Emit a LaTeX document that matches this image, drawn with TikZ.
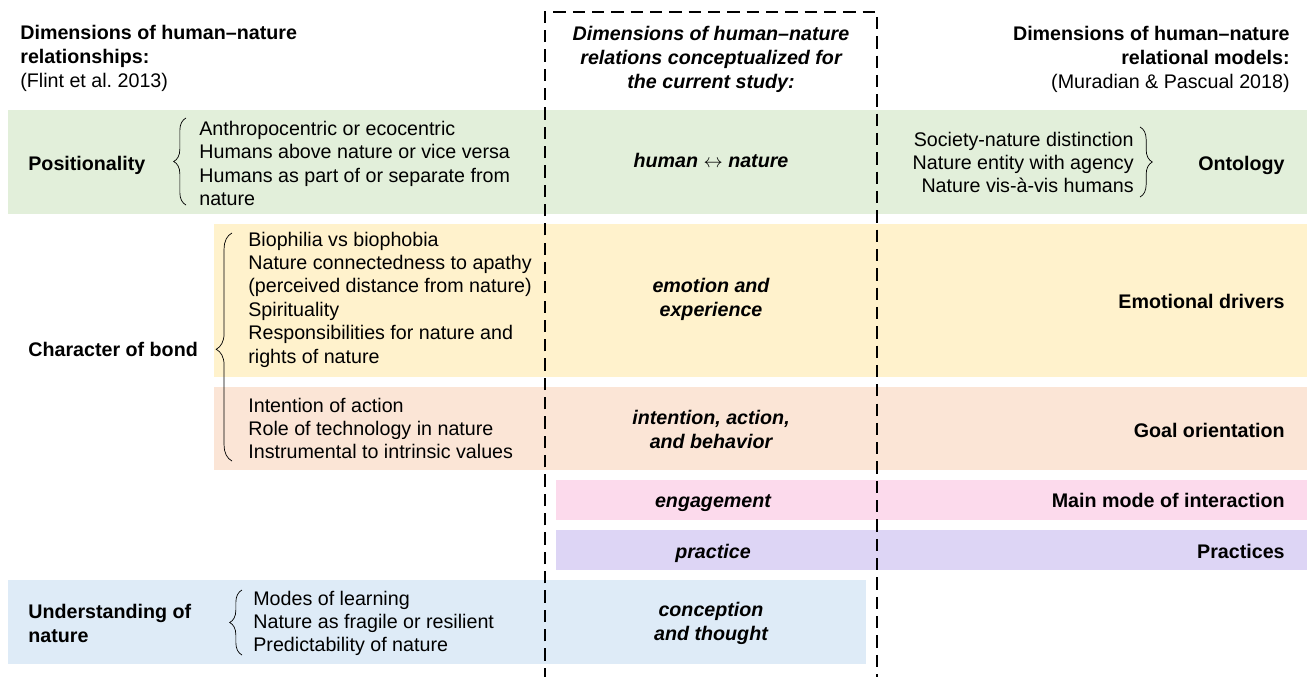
\documentclass[tikz,border=0pt]{standalone}
\usepackage{fontspec}
\setmainfont{Liberation Sans}
\usetikzlibrary{decorations.pathreplacing}

\definecolor{posgreen}{HTML}{E2EFDA}
\definecolor{bondyellow}{HTML}{FFF2CC}
\definecolor{actorange}{HTML}{FBE5D6}
\definecolor{engpink}{HTML}{FCDAEC}
\definecolor{pracpurple}{HTML}{DDD5F5}
\definecolor{undblue}{HTML}{DEEBF7}

\tikzset{
  txt/.style={inner sep=0pt, font=\fontsize{11.2}{13.3}\selectfont},
  dimlabel/.style={txt, font=\fontsize{11.2}{13.3}\selectfont\bfseries},
  studylabel/.style={txt, font=\fontsize{11.2}{13.3}\selectfont\bfseries\itshape, align=center},
  oneline/.style={text height=8.1pt, text depth=0pt},
  headline/.style={font=\fontsize{11.2}{13.6}\selectfont\bfseries},
  studyhead/.style={txt, align=center, font=\fontsize{11.2}{13.6}\selectfont\bfseries\itshape},
  itemlist/.style={txt, anchor=west, align=left},
  curly/.style={decorate, decoration={brace, amplitude=7pt}, thin},
}

\begin{document}
\begin{tikzpicture}[x=0.02cm, y=-0.02cm]
  \useasboundingbox (0,0) rectangle (1307,676);

  % Coloured bands
  \fill[posgreen] (8,110) rectangle (1307,214);
  \fill[bondyellow] (214,224) rectangle (1307,377);
  \fill[actorange] (214,387) rectangle (1307,470);
  \fill[engpink] (556,480) rectangle (1307,520);
  \fill[pracpurple] (556,530) rectangle (1307,570);
  \fill[undblue] (8,580) rectangle (866,664);

  % Column headings
  \node[dimlabel, headline, anchor=north west, align=left] (headflint) at (20,25)
    {Dimensions of human--nature\\relationships:\\\mdseries(Flint et al.\ 2013)};
  \node[studyhead, anchor=north] (headstudy) at (711,26)
    {Dimensions of human--nature\\relations conceptualized for\\the current study:};
  \node[dimlabel, headline, anchor=north east, align=right] (headmodel) at (1290,26)
    {Dimensions of human--nature\\relational models:\\\mdseries(Muradian \& Pascual 2018)};

  % Positionality / Ontology
  \node[dimlabel, oneline, anchor=west] (position) at (28,163) {Positionality};
  \node[itemlist] (positems) at (199,163.5)
    {Anthropocentric or ecocentric\\Humans above nature or vice versa\\Humans as part of or separate from\\nature};
  \draw[curly] (186,205) -- (186,118);
  \node[studylabel, oneline] (humnat) at (711,160) {human $\leftrightarrow$ nature};
  \node[itemlist, anchor=east, align=right] (ontitems) at (1134,162.5)
    {Society-nature distinction\\Nature entity with agency\\Nature vis-\`a-vis humans};
  \draw[curly] (1140,127) -- (1140,197);
  \node[dimlabel, oneline, anchor=east] (ontology) at (1285,163) {Ontology};

  % Character of bond
  \node[dimlabel, oneline, anchor=west] (bond) at (28,349) {Character of bond};
  \draw[curly, decoration={brace, amplitude=9pt, aspect=0.49}] (232,461) -- (232,233);
  \node[itemlist] (emoitems) at (248,299.5)
    {Biophilia vs biophobia\\Nature connectedness to apathy\\(perceived distance from nature)\\Spirituality\\Responsibilities for nature and\\rights of nature};
  \node[itemlist] (actitems) at (248,428.5)
    {Intention of action\\Role of technology in nature\\Instrumental to intrinsic values};
  \node[studylabel] (emotion) at (711,299.5) {emotion and\\experience};
  \node[dimlabel, oneline, anchor=east] (drivers) at (1285,301) {Emotional drivers};
  \node[studylabel] (intention) at (711,429.5) {intention, action,\\and behavior};
  \node[dimlabel, oneline, anchor=east] (goal) at (1285,430) {Goal orientation};

  % Engagement and practice
  \node[studylabel, oneline] (engage) at (713,500) {engagement};
  \node[dimlabel, oneline, anchor=east] (mode) at (1285,500) {Main mode of interaction};
  \node[studylabel, oneline] (practice) at (713,551) {practice};
  \node[dimlabel, oneline, anchor=east] (practices) at (1285,551) {Practices};

  % Understanding of nature
  \node[dimlabel, anchor=west, align=left] (understand) at (28,623.5) {Understanding of\\nature};
  \node[itemlist] (unditems) at (253,623.5)
    {Modes of learning\\Nature as fragile or resilient\\Predictability of nature};
  \draw[curly] (242,655) -- (242,590);
  \node[studylabel] (conception) at (711,623.5) {conception\\and thought};

  % Study frame
  \draw[line width=1.1pt, dash pattern=on 7pt off 4pt] (545,680) -- (545,12) -- (877,12) -- (877,680);
\end{tikzpicture}
\end{document}
